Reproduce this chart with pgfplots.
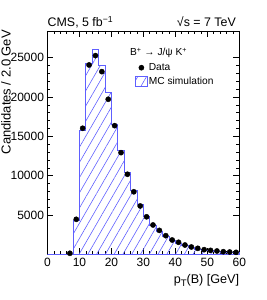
\documentclass[border=0pt]{standalone}
\usepackage{fontspec}
\setmainfont{Liberation Sans}
\usepackage{pgfplots}
\pgfplotsset{compat=1.18}
\usetikzlibrary{patterns.meta}
\definecolor{mcblue}{RGB}{95,95,255}
\pgfplotsset{
  mc legend/.style={legend image code/.code={\draw[##1] (0pt,-5pt) rectangle (11.7pt,5pt);}},
  data legend/.style={legend image code/.code={\draw[##1] plot coordinates {(5.85pt,0pt)};}},
}
\begin{document}
\begin{tikzpicture}[font=\fontsize{12pt}{14pt}\selectfont]
\begin{axis}[
  name=ax, clip=false,
  scale only axis, width=191.8pt, height=223.3pt,
  xmin=0, xmax=60, ymin=0, ymax=28400,
  xtick={0,10,...,60}, minor x tick num=4,
  ytick={5000,10000,15000,20000,25000}, minor y tick num=4,
  tick align=inside, xtick pos=both, ytick pos=both,
  xticklabel pos=left, yticklabel pos=left,
  major tick length=6pt, minor tick length=3pt,
  every tick/.style={black, line width=0.6pt},
  axis line style={line width=0.8pt},
  scaled y ticks=false,
  /pgf/number format/1000 sep={},
  /pgf/number format/assume math mode=true,
  xlabel={p{\fontsize{9.5pt}{10pt}\selectfont\raisebox{-0.35em}{T}}(B) [GeV]},
  xlabel style={at={(axis description cs:1,0)}, anchor=north east, inner sep=0pt, yshift=-20pt, font=\fontsize{12.6pt}{14pt}\selectfont},
  ylabel={Candidates / 2.0 GeV},
  ylabel style={at={(axis description cs:-0.190,1.005)}, anchor=south east, inner sep=0pt, font=\fontsize{13pt}{15pt}\selectfont},
  reverse legend,
  legend style={at={(axis description cs:0.456,0.861)}, anchor=north west, draw=none, fill=none,
    inner sep=0pt, row sep=2.5pt, font=\fontsize{10.2pt}{12pt}\selectfont,
    nodes={inner sep=1.2pt}},
  legend cell align=left,
]
\addplot[const plot, draw=mcblue, line width=0.8pt,
  pattern={Lines[angle=60,distance=7.6pt,line width=0.6pt]}, pattern color=mcblue,
  mc legend]
  coordinates {(0,0) (8,4300) (10,15800) (12,24300) (14,26000) (16,24050) (18,20550)
  (20,16500) (22,13250) (24,10450) (26,8100) (28,6300) (30,4800) (32,3700) (34,2950)
  (36,2300) (38,1750) (40,1400) (42,1100) (44,850) (46,680) (48,530) (50,440) (52,360)
  (54,290) (56,240) (58,200) (60,200)} \closedcycle;
\addlegendentry{MC simulation}
\addplot[only marks, mark=*, mark size=2.6pt, black, data legend]
  coordinates {(7,130) (9,4450) (11,16030) (13,24080) (15,25270) (17,23230) (19,19720)
  (21,16360) (23,12930) (25,10180) (27,7950) (29,6150) (31,4770) (33,3730) (35,3040)
  (37,2370) (39,1820) (41,1530) (43,1180) (45,930) (47,760) (49,590) (51,500) (53,420)
  (55,330) (57,290) (59,250)};
\addlegendentry{Data}
\node[anchor=base west, inner sep=0pt, font=\fontsize{12.4pt}{14pt}\selectfont] at (axis description cs:0,1) [yshift=4.3pt] {CMS, 5 fb\textsuperscript{−1}};
\node[anchor=base east, inner sep=0pt, font=\fontsize{12.4pt}{14pt}\selectfont] at (axis description cs:0.983,1) [yshift=4.3pt] {√s = 7 TeV};
\node[anchor=west, inner sep=0pt, font=\fontsize{10.2pt}{12pt}\selectfont] at (axis description cs:0.430,0.9015) {B\textsuperscript{+} → J/ψ K\textsuperscript{+}};
\end{axis}
\path (ax.south west) ++(-47.5pt,-45.7pt) rectangle ++(266pt,300pt);
\end{tikzpicture}
\end{document}
